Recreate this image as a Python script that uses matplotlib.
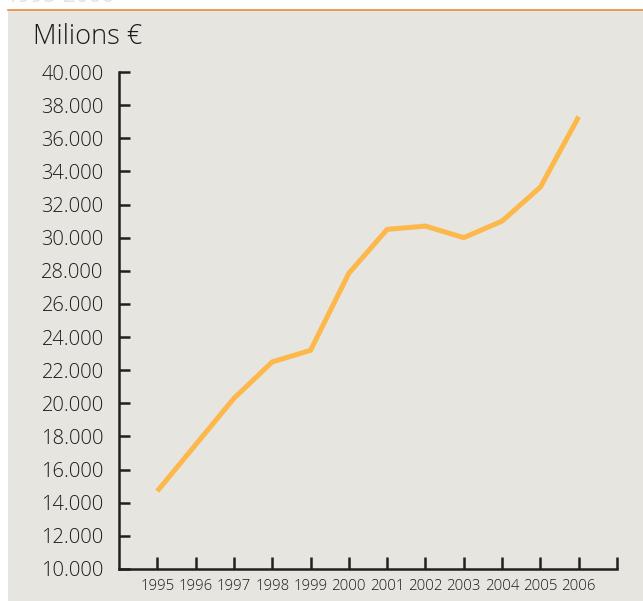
import matplotlib.pyplot as plt
from matplotlib.patches import Rectangle
from matplotlib.lines import Line2D

plt.rcParams['font.family'] = ['Open Sans', 'DejaVu Sans']

# data
years = [1995, 1996, 1997, 1998, 1999, 2000, 2001, 2002, 2003, 2004, 2005, 2006]
values = [14700, 17500, 20300, 22500, 23200, 27850, 30500, 30700, 30000, 31000, 33050, 37300]
y_ticks = list(range(10000, 40001, 2000))
y_labels = ["{:,}".format(v).replace(",", ".") for v in y_ticks]
x_ticks = years + [2007]
x_labels = [str(y) for y in years] + [""]

W, H = 643, 601
fig = plt.figure(figsize=(W / 100, H / 100), dpi=100)
fig.patch.set_facecolor("white")

# beige panel and the orange rule on top of it
fig.add_artist(Rectangle((8 / W, 0), 1 - 8 / W, 1 - 10 / H, transform=fig.transFigure,
                         facecolor="#e6e5df", edgecolor="none", zorder=0))
fig.add_artist(Line2D([8 / W, 1], [1 - 10 / H, 1 - 10 / H], transform=fig.transFigure,
                      color="#e98a3c", linewidth=1.2))
# heading above the panel, mostly outside the picture as in the reference
fig.text(6 / W, 1 - 2 / H, "1995-2006", color="#e2e2e2", fontsize=16, va="baseline")

ax = fig.add_axes([119 / W, (H - 569) / H, (617 - 119) / W, (569 - 72) / H])
ax.set_facecolor("none")
ax.plot(years, values, color="#fdb84c", linewidth=3.6, solid_capstyle="butt", clip_on=False)

ax.set_xlim(1994, 2007)
ax.set_ylim(10000, 40000)
for side in ["top", "right"]:
    ax.spines[side].set_visible(False)
for side in ["left", "bottom"]:
    ax.spines[side].set_linewidth(1.8)
    ax.spines[side].set_color("#231f20")
    ax.spines[side].set_capstyle("projecting")

ax.set_yticks(y_ticks)
ax.set_yticklabels(y_labels, fontweight="light")
ax.set_xticks(x_ticks)
ax.set_xticklabels(x_labels, fontweight="light")
ax.tick_params(axis="y", direction="in", length=8, width=1.8, color="#231f20",
               pad=11, labelsize=14.5, labelcolor="#1a1a1a")
ax.tick_params(axis="x", direction="in", length=9, width=1.8, color="#231f20",
               pad=7, labelsize=10.8, labelcolor="#1a1a1a")

fig.text(33 / W, 1 - 37 / H, "Milions €", fontsize=19.5, fontweight="light",
         color="#1a1a1a", va="center")

fig.savefig("out.png", dpi=100)
